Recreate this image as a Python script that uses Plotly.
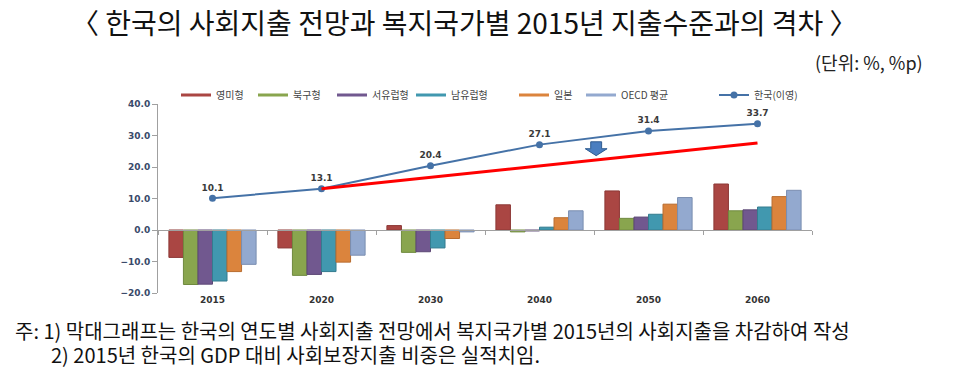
import plotly.graph_objects as go

years = ["2015", "2020", "2030", "2040", "2050", "2060"]
series_names = ["영미형", "북구형", "서유럽형", "남유럽형", "일본", "OECD 평균"]
anglo = [-8.7, -5.7, 1.4, 8.0, 12.4, 14.6]
nordic = [-17.3, -14.4, -7.1, -0.6, 3.7, 6.1]
west_eu = [-17.2, -14.1, -6.9, -0.3, 4.1, 6.4]
south_eu = [-16.2, -13.2, -5.7, 0.9, 5.0, 7.3]
japan = [-13.2, -10.2, -2.7, 3.9, 8.2, 10.6]
oecd = [-10.9, -8.0, -0.6, 6.1, 10.3, 12.6]
korea_name = "한국(이영)"
korea = [10.1, 13.1, 20.4, 27.1, 31.4, 33.7]
target_years = ["2020", "2060"]
target = [13.1, 27.6]
target_label = "목표"

bar_colors = ["#AA4643", "#89A54E", "#71588F", "#4198AF", "#DB843D", "#93A9CF"]
bar_lines = ["#8C3836", "#708A3F", "#5C4775", "#347C8F", "#B86C2F", "#7A8DB0"]

KR = "Noto Sans CJK KR"
NUM = "Verdana, DejaVu Sans"

# The page body adds an 8px margin, so the figure is 8px smaller and offsets shrink by 8.
BODY = 8
PL, PW = 158, 654  # plot-area left and width in page px
legend_px = [182, 259, 338, 417, 520, 587, 720]  # legend entry left edges in page px
legend_ids = ["legend"] + [f"legend{i}" for i in range(2, 8)]

fig = go.Figure()
for i, (name, vals, c, lc) in enumerate(zip(series_names, [anglo, nordic, west_eu, south_eu, japan, oecd], bar_colors, bar_lines)):
    fig.add_trace(go.Bar(x=years, y=vals, name=name, legendgroup=name, showlegend=False,
                         marker=dict(color=c, line=dict(color=lc, width=1))))
    # line-style legend entry like the original
    fig.add_trace(go.Scatter(x=[None], y=[None], name=name, legendgroup=name, mode="lines",
                             line=dict(color=c, width=3), legend=legend_ids[i]))

fig.add_trace(go.Scatter(
    x=years, y=korea, name=korea_name, mode="lines+markers+text", legend=legend_ids[6],
    line=dict(color="#4572A7", width=2), marker=dict(size=7, color="#4572A7"),
    text=[f"{v:.1f}" for v in korea], textposition="top center",
    textfont=dict(family=NUM, size=9, color="#3A3A3A", weight="bold"),
    cliponaxis=False,
))
fig.add_trace(go.Scatter(
    x=target_years, y=target, mode="lines", showlegend=False,
    line=dict(color="#FF0000", width=3), hoverinfo="skip",
))
# helper trace for zero-line axis with boundary ticks
fig.add_trace(go.Scatter(x=years, y=[0] * len(years), mode="markers", xaxis="x2",
                         marker=dict(opacity=0), showlegend=False, hoverinfo="skip"))

# target label
fig.add_annotation(x=target_years[-1], y=target[-1], text=target_label, showarrow=False,
                   xanchor="left", yanchor="middle", xshift=28, yshift=-4,
                   font=dict(family=KR, size=12, color="#555555", weight="bold"))

# down arrow between 2040 and 2050 (category index coordinates)
fig.add_shape(type="path", xref="x", yref="y",
              path="M 3.47 28.0 L 3.57 28.0 L 3.57 25.8 L 3.62 25.8 L 3.52 23.6 L 3.42 25.8 L 3.47 25.8 Z",
              fillcolor="#4A7EC0", line=dict(color="#2F5B8F", width=1))

# Title, unit, footnotes
fig.add_annotation(xref="paper", yref="paper", x=0.469, y=1.434, yanchor="middle",
                   xanchor="center", showarrow=False,
                   text="〈 한국의 사회지출 전망과 복지국가별 2015년 지출수준과의 격차 〉",
                   font=dict(family=KR, size=28, color="#111111"))
fig.add_annotation(xref="paper", yref="paper", x=1.173, y=1.222, xanchor="right", yanchor="middle",
                   showarrow=False, text="(단위: %, %p)",
                   font=dict(family=KR, size=18, color="#222222"))
fig.add_annotation(xref="paper", yref="paper", x=-0.222, y=-0.196, xanchor="left", yanchor="middle",
                   showarrow=False,
                   text="주: 1) 막대그래프는 한국의 연도별 사회지출 전망에서 복지국가별 2015년의 사회지출을 차감하여 작성",
                   font=dict(family=KR, size=20, color="#111111"))
fig.add_annotation(xref="paper", yref="paper", x=-0.167, y=-0.328, xanchor="left", yanchor="middle",
                   showarrow=False,
                   text="2) 2015년 한국의 GDP 대비 사회보장지출 비중은 실적치임.",
                   font=dict(family=KR, size=20, color="#111111"))

legend_style = dict(orientation="h", y=1.048, xanchor="left", yanchor="middle",
                    font=dict(family=KR, size=10, color="#444444"), bgcolor="rgba(0,0,0,0)")
legends = {lid: dict(legend_style, x=(px - 6 - PL) / PW) for lid, px in zip(legend_ids, legend_px)}

fig.update_layout(
    width=958 - BODY, height=367 - BODY,
    margin=dict(l=158 - BODY, r=146, t=104 - BODY, b=74, autoexpand=False),
    paper_bgcolor="white", plot_bgcolor="white",
    barmode="group", bargap=0.2, bargroupgap=0,
    showlegend=True,
    xaxis=dict(type="category", categoryarray=years, range=[-0.5, 5.5],
               showline=False, ticks="", showgrid=False, zeroline=False,
               tickfont=dict(family=NUM, size=9, color="#333333", weight="bold")),
    xaxis2=dict(type="category", categoryarray=years, range=[-0.5, 5.5],
                overlaying="x", anchor="free", position=1/3,
                showline=True, linecolor="#A0A0A0", linewidth=1, ticks="outside",
                tickson="boundaries", ticklen=4, tickcolor="#A0A0A0",
                showticklabels=False, showgrid=False, zeroline=False),
    yaxis=dict(range=[-20, 40], dtick=10, tickformat=".1f", showgrid=False, zeroline=False,
               showline=True, linecolor="#A0A0A0", ticks="outside", ticklen=5, tickcolor="#A0A0A0",
               tickfont=dict(family=NUM, size=9, color="#3A4A6A", weight="bold")),
    **legends,
)

fig.write_html("out.html")
